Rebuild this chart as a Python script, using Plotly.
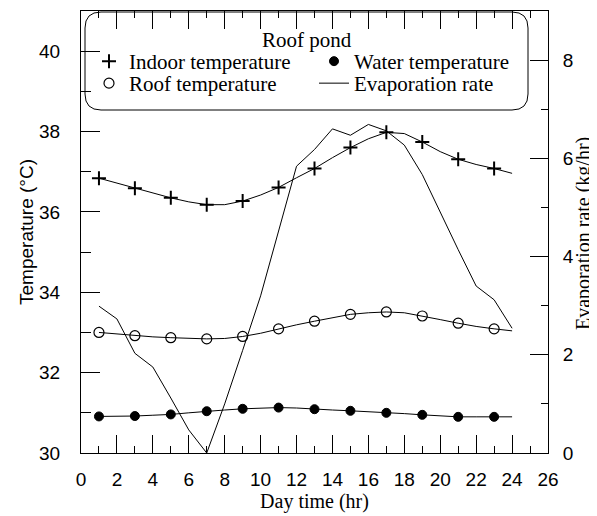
import plotly.graph_objects as go

# ---------------- data ----------------
hours = list(range(1, 25))
indoor_temp = [36.84, 36.72, 36.59, 36.47, 36.35, 36.25, 36.18, 36.18, 36.27, 36.42, 36.61, 36.85,
               37.08, 37.35, 37.60, 37.82, 37.98, 37.95, 37.74, 37.50, 37.31, 37.18, 37.08, 36.96]
roof_temp = [33.00, 32.96, 32.92, 32.89, 32.87, 32.85, 32.84, 32.85, 32.90, 32.98, 33.09, 33.19,
             33.28, 33.37, 33.45, 33.49, 33.51, 33.49, 33.41, 33.32, 33.23, 33.15, 33.09, 33.04]
water_temp = [30.91, 30.91, 30.92, 30.94, 30.96, 31.00, 31.04, 31.07, 31.10, 31.12, 31.13, 31.12,
              31.09, 31.07, 31.05, 31.03, 31.00, 30.98, 30.95, 30.92, 30.90, 30.90, 30.90, 30.90]
evap_rate = [2.99, 2.73, 2.03, 1.75, 1.12, 0.47, 0.00, 1.00, 2.09, 3.20, 4.52, 5.84,
             6.18, 6.60, 6.47, 6.69, 6.56, 6.27, 5.67, 4.89, 4.14, 3.40, 3.12, 2.54]

series_names = ["Indoor temperature", "Water temperature", "Roof temperature", "Evaporation rate"]
legend_title = "Roof pond"
x_title = "Day time (hr)"
y_title = "Temperature (\u00b0C)"
y2_title = "Evaporation rate (kg/hr)"

# ---------------- layout constants ----------------
OFF = 8                      # default page margin of the html body
W, H = 597 - OFF, 516 - OFF
PLOT_L, PLOT_R, PLOT_T, PLOT_B = 81, 548, 11, 453   # plot area in page pixels
ML, MT = PLOT_L - OFF, PLOT_T - OFF
PW, PH = PLOT_R - PLOT_L, PLOT_B - PLOT_T
MR, MB = W - ML - PW, H - MT - PH
SERIF = "Liberation Serif, Times New Roman, serif"
SANS = "Liberation Sans, Arial, sans-serif"
BLACK = "#000000"


def px_x(p):
    return (p - PLOT_L) / PW


def px_y(p):
    return (PLOT_B - p) / PH


fig = go.Figure()

mk_hours = hours[::2]

# lines (hourly)
for vals in (indoor_temp, water_temp, roof_temp):
    fig.add_trace(go.Scatter(x=hours, y=vals, mode="lines", showlegend=False,
                             line=dict(color=BLACK, width=1), hoverinfo="skip"))

# markers (every second hour)
fig.add_trace(go.Scatter(x=mk_hours, y=indoor_temp[::2], mode="markers", name=series_names[0],
                         legend="legend",
                         marker=dict(symbol="cross-thin-open", size=10, color=BLACK,
                                     line=dict(color=BLACK, width=2))))
fig.add_trace(go.Scatter(x=mk_hours, y=water_temp[::2], mode="markers", name=series_names[1],
                         legend="legend",
                         marker=dict(symbol="circle", size=9, color=BLACK,
                                     line=dict(color=BLACK, width=1))))
fig.add_trace(go.Scatter(x=mk_hours, y=roof_temp[::2], mode="markers", name=series_names[2],
                         legend="legend2",
                         marker=dict(symbol="circle-open", size=10, color=BLACK,
                                     line=dict(color=BLACK, width=1.2))))
fig.add_trace(go.Scatter(x=hours, y=evap_rate, mode="lines", name=series_names[3], yaxis="y2",
                         legend="legend2",
                         line=dict(color=BLACK, width=1)))

# rounded legend box
x0, x1, y0, y1, r = px_x(85), px_x(528), px_y(12), px_y(110), 16
rx, ry = r / PW, r / PH
path = (f"M {x0+rx},{y0} L {x1-rx},{y0} Q {x1},{y0} {x1},{y0-ry} "
        f"L {x1},{y1+ry} Q {x1},{y1} {x1-rx},{y1} L {x0+rx},{y1} "
        f"Q {x0},{y1} {x0},{y1+ry} L {x0},{y0-ry} Q {x0},{y0} {x0+rx},{y0} Z")
fig.add_shape(type="path", path=path, xref="paper", yref="paper",
              line=dict(color=BLACK, width=1), fillcolor="rgba(0,0,0,0)", layer="above")

fig.add_annotation(text=legend_title, xref="paper", yref="paper", x=px_x(307), y=px_y(40),
                   xanchor="center", yanchor="middle", showarrow=False,
                   font=dict(family=SERIF, size=21, color=BLACK))

# right axis title
fig.add_annotation(text=y2_title, xref="paper", yref="paper", x=px_x(583), y=px_y(234),
                   xanchor="center", yanchor="middle", showarrow=False, textangle=-90,
                   font=dict(family=SERIF, size=20, color=BLACK))

axis_common = dict(showline=True, linecolor=BLACK, linewidth=1, ticks="inside",
                   tickcolor=BLACK, tickwidth=1, showgrid=False, zeroline=False,
                   automargin=False,
                   tickfont=dict(family=SANS, size=19, color=BLACK))

legend_common = dict(orientation="h", xanchor="left", yanchor="top",
                     bgcolor="rgba(0,0,0,0)", borderwidth=0,
                     font=dict(family=SERIF, size=21, color=BLACK),
                     entrywidth=180, itemwidth=30)

fig.update_layout(
    template="none",
    width=W, height=H,
    margin=dict(l=ML, r=MR, t=MT, b=MB, pad=0),
    paper_bgcolor="white", plot_bgcolor="white",
    showlegend=True,
    legend=dict(x=px_x(89), y=px_y(41), **legend_common),
    legend2=dict(x=px_x(89), y=px_y(63), **legend_common),
    xaxis=dict(range=[0, 26], tick0=0, dtick=2, ticklen=18, mirror="ticks",
               minor=dict(dtick=1, ticklen=7, ticks="inside", tickcolor=BLACK, showgrid=False),
               ticklabelstandoff=9,
               title=dict(text=x_title, font=dict(family=SERIF, size=20, color=BLACK), standoff=5),
               **axis_common),
    yaxis=dict(range=[30, 41], tick0=30, dtick=2, ticklen=19,
               minor=dict(dtick=1, ticklen=10, ticks="inside", tickcolor=BLACK, showgrid=False),
               ticklabelstandoff=16,
               title=dict(text=y_title, font=dict(family=SANS, size=19, color=BLACK), standoff=0),
               **axis_common),
    yaxis2=dict(range=[0, 9], tick0=0, dtick=2, ticklen=18, overlaying="y", side="right",
                minor=dict(dtick=1, ticklen=7, ticks="inside", tickcolor=BLACK, showgrid=False),
                ticklabelstandoff=10,
                **axis_common),
)

fig.write_html("out.html")
